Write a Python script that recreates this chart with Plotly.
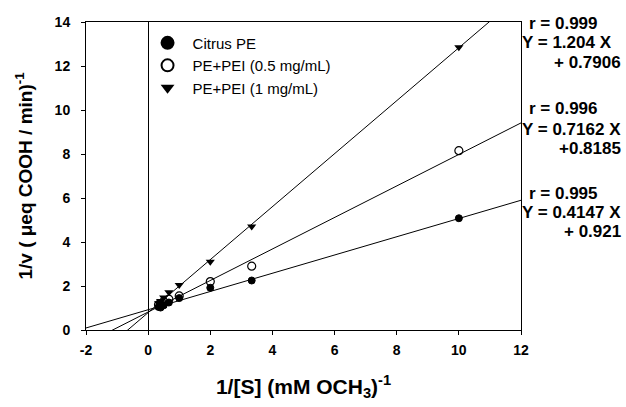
import plotly.graph_objects as go

# Data
x_vals = [10, 3.333, 2, 1, 0.667, 0.5, 0.4, 0.333]
citrus = [5.08, 2.25, 1.92, 1.45, 1.25, 1.12, 1.02, 1.05]
pei05 = [8.15, 2.9, 2.2, 1.55, 1.4, 1.3, 1.2, 1.15]
pei1 = [12.85, 4.7, 3.1, 2.05, 1.72, 1.48, 1.32, 1.22]

series_names = ["Citrus PE", "PE+PEI (0.5 mg/mL)", "PE+PEI (1 mg/mL)"]
slopes = [0.4147, 0.7162, 1.204]
intercepts = [0.921, 0.8185, 0.7906]
eq_texts = [
    ["r = 0.999", "Y = 1.204 X", "+ 0.7906"],
    ["r = 0.996", "Y = 0.7162 X", "+0.8185"],
    ["r = 0.995", "Y = 0.4147 X", "+ 0.921"],
]
x_range = [-2, 12]
y_range = [0, 14]
x_ticks = [-2, 0, 2, 4, 6, 8, 10, 12]
x_ticktext = ["-2", "0", "2", "4", "6", "8", "10", "12"]
y_ticks = [0, 2, 4, 6, 8, 10, 12, 14]

FONT = "Arial, Liberation Sans, sans-serif"
L, R, T, B = 86, 105, 22, 77
W, H = 626, 407
pw, ph = W - L - R, H - T - B

fig = go.Figure()

# regression lines
for s, b in zip(slopes, intercepts):
    fig.add_trace(go.Scatter(
        x=x_range, y=[s * x_range[0] + b, s * x_range[1] + b],
        mode="lines", line=dict(color="black", width=1),
        showlegend=False, hoverinfo="skip"))

styles = [
    dict(symbol="circle", color="black", size=7, line=dict(color="black", width=1)),
    dict(symbol="circle-open", color="black", size=8, line=dict(color="black", width=1.2)),
    dict(symbol="triangle-down", color="black", size=8, line=dict(color="black", width=0)),
]
for name, ys, st in zip(series_names, [citrus, pei05, pei1], styles):
    fig.add_trace(go.Scatter(x=x_vals, y=ys, mode="markers", name=name, marker=st))

# equation annotations at the right (positions in figure pixels -> plot-area paper coords)
group_y = [[23, 43, 62], [108, 129, 148], [193, 212, 232]]
for texts, ys in zip(eq_texts, group_y):
    for i, (t, yy) in enumerate(zip(texts, ys)):
        xanchor = "right" if i == 2 else "left"
        xpos = 622 if i == 2 else (528 if i == 0 else 521)
        fig.add_annotation(
            x=(xpos - L) / pw, y=1 - (yy - T) / ph, xref="paper", yref="paper",
            text=f"<b>{t}</b>", showarrow=False, xanchor=xanchor, yanchor="middle",
            borderpad=0,
            font=dict(family=FONT, size=17, color="black"))

fig.update_layout(
    width=W, height=H,
    margin=dict(l=L, r=R, t=T, b=B),
    paper_bgcolor="white", plot_bgcolor="white",
    font=dict(family=FONT, color="black"),
    showlegend=True,
    legend=dict(x=0.13, y=0.985, xanchor="left", yanchor="top",
                bgcolor="rgba(0,0,0,0)", font=dict(family=FONT, size=15),
                itemsizing="constant", itemwidth=40, tracegroupgap=0),
    xaxis=dict(range=x_range, tickvals=x_ticks, ticktext=x_ticktext, showgrid=False,
               zeroline=True, zerolinecolor="black", zerolinewidth=1,
               showline=True, linecolor="black", linewidth=1, mirror=True,
               ticks="outside", ticklen=4, tickcolor="black", ticklabelstandoff=3,
               tickfont=dict(family=FONT, size=14, color="black", weight="bold"),
               title=dict(text="<b>1/[S] (mM OCH<sub>3</sub>)<sup>-1</sup></b>",
                          font=dict(family=FONT, size=21), standoff=22)),
    yaxis=dict(range=y_range, tickvals=y_ticks, showgrid=False, zeroline=False,
               showline=True, linecolor="black", linewidth=1, mirror=True,
               ticks="outside", ticklen=4, tickcolor="black", ticklabelstandoff=8,
               tickfont=dict(family=FONT, size=14, color="black", weight="bold"),
               title=dict(text="<b>1/v ( μeq COOH / min)<sup>-1</sup></b>",
                          font=dict(family=FONT, size=19), standoff=16)),
)

fig.write_html("out.html", config={"displayModeBar": False},
               post_script="document.body.style.margin='0';document.body.style.overflow='hidden';")
